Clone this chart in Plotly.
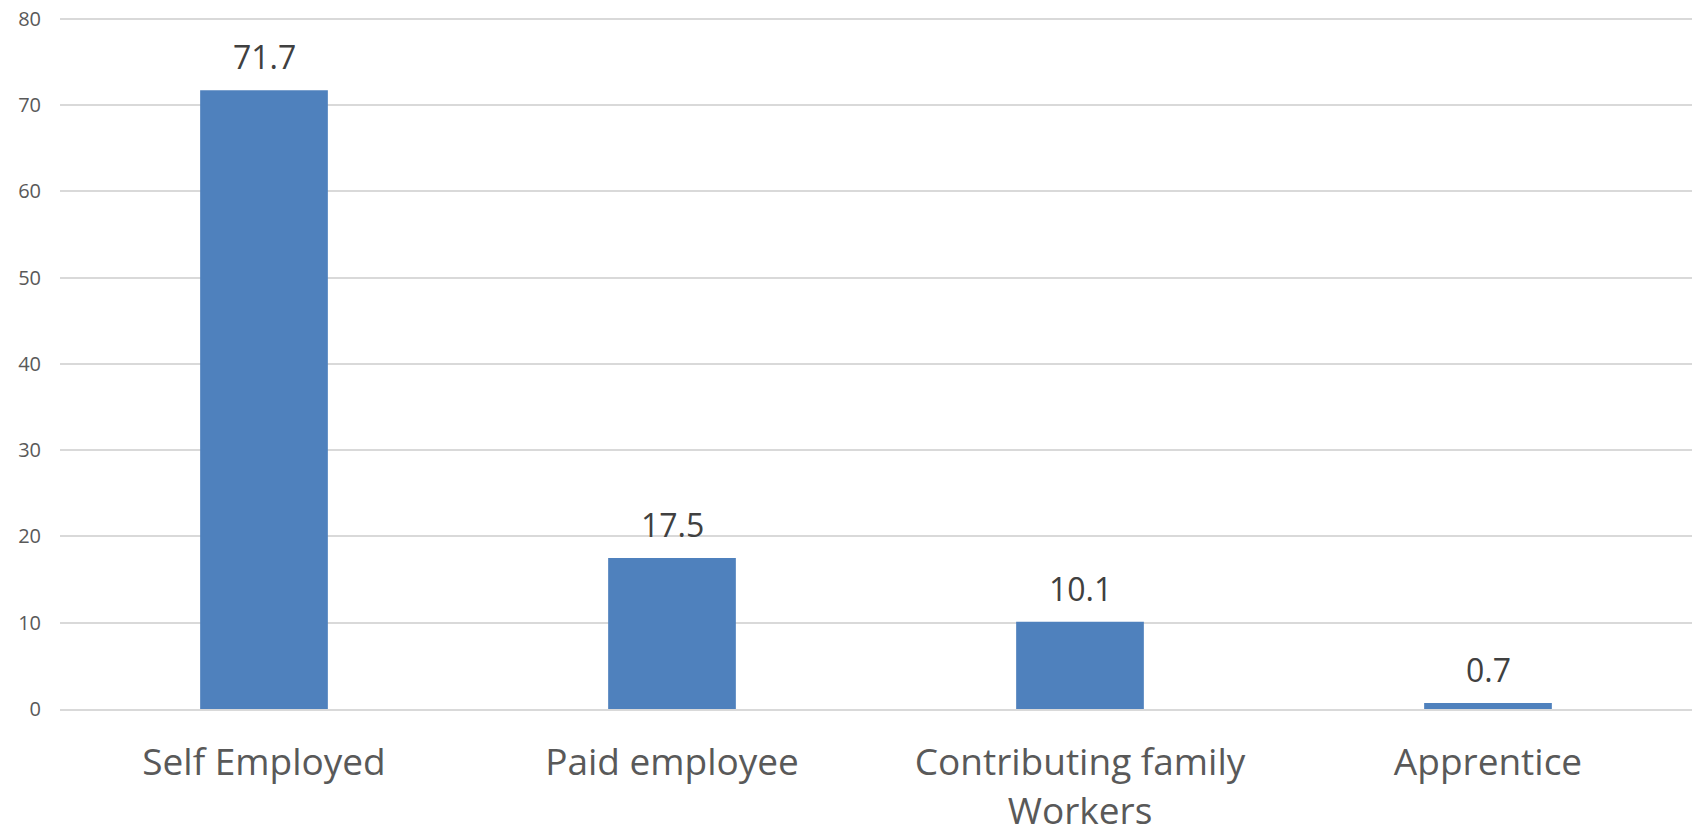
import plotly.graph_objects as go

# Data
categories = ['Self Employed', 'Paid employee', 'Contributing family<br>Workers', 'Apprentice']
values = [71.7, 17.5, 10.1, 0.7]
y_ticks = [0, 10, 20, 30, 40, 50, 60, 70, 80]

fig = go.Figure()

fig.add_trace(go.Bar(
    x=categories,
    y=values,
    marker=dict(color='#4F81BD', line=dict(width=0)),
    width=0.313,
    hoverinfo='x+y',
))

# Value labels above the bars
for c, v in zip(categories, values):
    fig.add_annotation(
        x=c, y=v,
        text=f'{v}',
        showarrow=False,
        yanchor='bottom',
        yshift=10,
        font=dict(size=32, color='#404040', family='Open Sans'),
    )

fig.update_layout(
    width=1692,
    height=834,
    margin=dict(l=60, r=0, t=17, b=125),
    plot_bgcolor='white',
    paper_bgcolor='white',
    showlegend=False,
    font=dict(family='Open Sans', color='#595959'),
    xaxis=dict(
        showgrid=False,
        showline=True,
        linecolor='#D9D9D9',
        linewidth=2,
        ticks='',
        tickfont=dict(size=37, color='#595959'),
        ticklabelstandoff=20,
    ),
    yaxis=dict(
        # a little headroom so the 80 gridline is not dropped at the plot edge
        range=[0, 80.2],
        tickvals=y_ticks,
        showgrid=True,
        gridcolor='#D9D9D9',
        gridwidth=1.5,
        zeroline=False,
        showline=False,
        ticks='',
        tickfont=dict(size=20, color='#595959'),
        ticklabelstandoff=18,
    ),
)

# drop the default body margin so the figure sits at the window's top-left
fig.write_html('out.html', config={'displayModeBar': False},
               post_script="document.body.style.margin='0';")
